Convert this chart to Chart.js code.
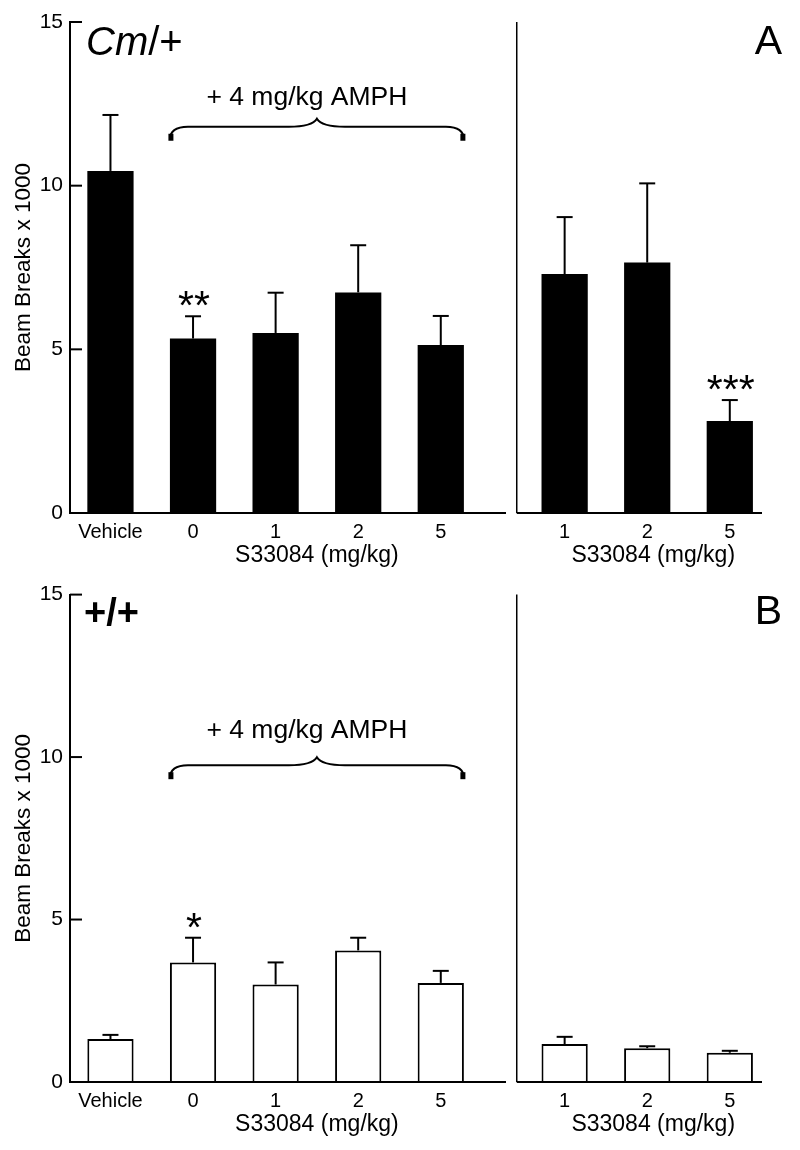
<!DOCTYPE html>
<html>
<head>
<meta charset="utf-8">
<script src="https://cdn.jsdelivr.net/npm/chart.js@4.4.1/dist/chart.umd.min.js"></script>
<style>
  html, body { margin: 0; padding: 0; background: #fff; }
  .panel { position: absolute; left: 0; width: 800px; height: 575px; }
  #panelA { top: 0; }
  #panelB { top: 575px; }
</style>
</head>
<body>
<div class="panel" id="panelA"><canvas id="chartA" width="800" height="575"></canvas></div>
<div class="panel" id="panelB"><canvas id="chartB" width="800" height="575"></canvas></div>
<script>
/****************************** Data (beam breaks x 1000) ********************************/
const xLabels = ['Vehicle', '0', '1', '2', '5', '1', '2', '5'];
const yTicks = [0, 5, 10, 15];
const ampGroupSize = 5; // vehicle + 4 doses given with AMPH, the rest is S33084 alone

// Cm/+ mice
const cmMeans = [10.45, 5.33, 5.50, 6.74, 5.13, 7.30, 7.65, 2.81];
const cmSem   = [1.71, 0.68, 1.23, 1.44, 0.89, 1.74, 2.42, 0.64];
const cmStars = ['', '**', '', '', '', '', '', '***'];

// +/+ mice
const wtMeans = [1.32, 3.68, 3.00, 4.05, 3.05, 1.17, 1.04, 0.90];
const wtSem   = [0.13, 0.76, 0.68, 0.39, 0.37, 0.22, 0.06, 0.06];
const wtStars = ['', '*', '', '', '', '', '', ''];

const xTitle = 'S33084 (mg/kg)';
const yTitle = 'Beam Breaks x 1000';
const braceText = '+ 4 mg/kg AMPH';

/****************************** Setup ********************************/
const FONT = '"Liberation Sans", Arial, Helvetica, sans-serif';
Chart.defaults.font.family = FONT;
Chart.defaults.color = '#000';

// second group sits 1.5 slots after the first one
const xPos = xLabels.map((_, i) => i < ampGroupSize ? i : i + 0.5);
const lastLeft = ampGroupSize - 1;

function hline(ctx, x0, x1, y) {
    ctx.beginPath(); ctx.moveTo(x0, y); ctx.lineTo(x1, y); ctx.stroke();
}
function vline(ctx, x, y0, y1) {
    ctx.beginPath(); ctx.moveTo(x, y0); ctx.lineTo(x, y1); ctx.stroke();
}

function drawBrace(ctx, x0, x1, yy) {
    const xm = (x0 + x1) / 2;
    ctx.lineWidth = 2;
    ctx.beginPath();
    ctx.moveTo(x0, yy + 13);
    ctx.quadraticCurveTo(x0, yy, x0 + 18, yy);
    ctx.lineTo(xm - 28, yy);
    ctx.bezierCurveTo(xm - 10, yy, xm - 3, yy - 3, xm, yy - 8);
    ctx.bezierCurveTo(xm + 3, yy - 3, xm + 10, yy, xm + 28, yy);
    ctx.lineTo(x1 - 18, yy);
    ctx.quadraticCurveTo(x1, yy, x1, yy + 13);
    ctx.stroke();
    // thick tips
    ctx.lineWidth = 5;
    vline(ctx, x0 + 1, yy + 7, yy + 14);
    vline(ctx, x1 - 1, yy + 7, yy + 14);
}

function makeDecor(cfg) {
    return {
        id: 'decor',
        afterDraw(chart) {
            const { ctx, chartArea, scales: { x, y } } = chart;
            const bars = chart.getDatasetMeta(0).data;
            const y0 = y.getPixelForValue(0);
            ctx.save();
            ctx.strokeStyle = '#000';
            ctx.fillStyle = '#000';

            // baselines + separator
            ctx.lineWidth = 2;
            hline(ctx, chartArea.left, x.getPixelForValue(lastLeft + 0.79), y0);
            const sep = x.getPixelForValue(lastLeft + 0.92);
            hline(ctx, sep, chartArea.right, y0);
            ctx.lineWidth = 1.5;
            vline(ctx, sep, chartArea.top, y0);

            // inward tick marks on y axis
            ctx.lineWidth = 2;
            yTicks.forEach(v => {
                if (v === 0) return;
                const py = y.getPixelForValue(v);
                hline(ctx, chartArea.left, chartArea.left + 12, py);
            });

            // error bars (upper only) and stars
            bars.forEach((bar, i) => {
                const top = y.getPixelForValue(cfg.means[i] + cfg.sem[i]);
                const base = y.getPixelForValue(cfg.means[i]);
                ctx.lineWidth = 2;
                vline(ctx, bar.x, base, top);
                hline(ctx, bar.x - 8, bar.x + 8, top);
                if (cfg.stars[i]) {
                    ctx.font = '41px ' + FONT;
                    ctx.textAlign = 'center';
                    ctx.textBaseline = 'alphabetic';
                    ctx.fillText(cfg.stars[i], bar.x + 1, top + 3);
                }
            });

            // brace over the AMPH doses
            const b0 = bars[1], b1 = bars[lastLeft];
            const bx0 = b0.x - b0.width / 2, bx1 = b1.x + b1.width / 2;
            drawBrace(ctx, bx0, bx1, y.getPixelForValue(cfg.braceValue));
            ctx.font = '26.5px ' + FONT;
            ctx.textAlign = 'center';
            ctx.textBaseline = 'alphabetic';
            ctx.fillText(braceText, (bx0 + bx1) / 2 - 10, y.getPixelForValue(cfg.labelValue));

            // x titles under each group
            ctx.font = '23px ' + FONT;
            ctx.textBaseline = 'middle';
            const leftMid = (bars[1].x + bars[lastLeft].x) / 2;
            const rightMid = (bars[ampGroupSize].x + bars[bars.length - 1].x) / 2;
            ctx.fillText(xTitle, leftMid, y0 + 43);
            ctx.fillText(xTitle, rightMid + 6, y0 + 43);

            // panel titles
            ctx.textAlign = 'left';
            ctx.textBaseline = 'alphabetic';
            let tx = cfg.titleX;
            cfg.titleParts.forEach(p => {
                ctx.font = p.font;
                ctx.fillText(p.text, tx, cfg.titleY);
                tx += ctx.measureText(p.text).width;
            });
            ctx.font = '41px ' + FONT;
            ctx.textAlign = 'right';
            ctx.fillText(cfg.letter, 782, cfg.titleY - 1);
            ctx.restore();
        }
    };
}

function makePanel(id, cfg) {
    new Chart(document.getElementById(id), {
        type: 'bar',
        data: {
            datasets: [{
                data: cfg.means.map((m, i) => ({ x: xPos[i], y: m })),
                backgroundColor: cfg.fill,
                borderColor: '#000',
                borderWidth: cfg.border,
                borderSkipped: 'bottom',
                barPercentage: 0.56,
                categoryPercentage: 1
            }]
        },
        options: {
            responsive: false,
            animation: false,
            devicePixelRatio: 1,
            layout: { padding: { top: cfg.top, right: 38, left: 0, bottom: 0 } },
            plugins: { legend: { display: false }, tooltip: { enabled: false } },
            scales: {
                x: {
                    type: 'linear',
                    min: -0.49,
                    max: 7.89,
                    offset: false,
                    afterBuildTicks: s => { s.ticks = xPos.map(v => ({ value: v })); },
                    afterFit: s => { s.height = cfg.axisHeight; },
                    border: { display: false },
                    grid: { display: false, drawTicks: false },
                    ticks: {
                        autoSkip: false, maxRotation: 0, minRotation: 0, padding: 7,
                        font: { size: 20 }, color: '#000',
                        callback: (v, i) => xLabels[i]
                    }
                },
                y: {
                    min: 0,
                    max: 15,
                    afterBuildTicks: s => { s.ticks = yTicks.map(v => ({ value: v })); },
                    afterFit: s => { s.width = 70; },
                    border: { display: true, color: '#000', width: 2 },
                    grid: { display: false, drawTicks: false },
                    ticks: { padding: 7, font: { size: 21 }, color: '#000' },
                    title: {
                        display: true, text: yTitle, color: '#000',
                        font: { size: 22.5 }, padding: { top: 10, bottom: 0 }
                    }
                }
            }
        },
        plugins: [makeDecor(cfg)]
    });
}

/****************************** Panel A: Cm/+ ********************************/
makePanel('chartA', {
    means: cmMeans, sem: cmSem, stars: cmStars,
    fill: '#000', border: 0,
    top: 22, axisHeight: 62,
    braceValue: 11.8, labelValue: 12.45,
    titleParts: [
        { text: 'Cm', font: 'italic 40px ' + FONT },
        { text: '/+', font: '40px ' + FONT }
    ],
    titleX: 86, titleY: 55, letter: 'A'
});

/****************************** Panel B: +/+ ********************************/
makePanel('chartB', {
    means: wtMeans, sem: wtSem, stars: wtStars,
    fill: '#fff', border: 2,
    top: 15, axisHeight: 68,
    braceValue: 9.75, labelValue: 10.59,
    titleParts: [
        { text: '+/+', font: 'bold 38px ' + FONT }
    ],
    titleX: 84, titleY: 50, letter: 'B'
});
</script>
</body>
</html>
